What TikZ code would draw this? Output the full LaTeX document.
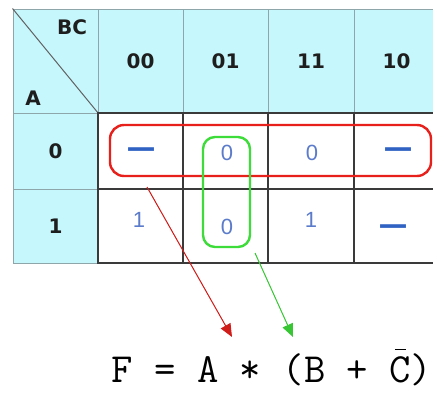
\documentclass[tikz,border=0pt]{standalone}
\usepackage{fontspec}
\usepackage{tikz}
\usetikzlibrary{arrows.meta,positioning}
\newfontfamily\kmapfont{DejaVu Sans}
\newfontfamily\valfont{Liberation Sans}
\definecolor{kmapcyan}{HTML}{C6F7FC}
\definecolor{kmapgrid}{HTML}{8EA6AA}
\definecolor{kmapline}{HTML}{3A3A3A}
\definecolor{kmapink}{HTML}{1E1E1E}
\definecolor{kmapblue}{HTML}{5B7BCB}
\definecolor{kmapdash}{HTML}{2F62C2}
\definecolor{loopred}{HTML}{E8201C}
\definecolor{loopgreen}{HTML}{3EDC3A}
\tikzset{
  headcell/.style={
    draw=kmapgrid,
    fill=kmapcyan,
    line width=1pt,
    inner sep=0pt,
    text=kmapink,
    font=\kmapfont\bfseries\fontsize{20}{22}\selectfont
  },
  datacell/.style={
    draw=kmapline,
    fill=white,
    line width=1.7pt,
    inner sep=0pt
  },
  cellval/.style={
    text=kmapblue,
    inner sep=0pt,
    font=\valfont\fontsize{22}{24}\selectfont
  },
  dontcare/.style={
    text=kmapdash,
    inner sep=0pt,
    font=\kmapfont\bfseries\fontsize{29}{32}\selectfont
  },
  grouploop/.style={
    rounded corners=14pt,
    line width=2.4pt,
    inner sep=0pt
  },
  pointer/.style={
    -{Triangle[length=13pt,width=11pt]},
    line width=1pt
  },
  formula/.style={
    inner sep=0pt,
    font=\ttfamily\fontsize{41.5}{46}\selectfont
  }
}

\begin{document}
\begin{tikzpicture}[x=1pt,y=-1pt]
  \useasboundingbox (0,0) rectangle (433,394);
  \clip (0,0) rectangle (433,394);

  % header row and row labels
  \node[headcell, minimum width=85pt, minimum height=104pt] (corner) at (55.5,61) {};
  \foreach \name/\cx/\w in {00/140.5/85, 01/225.5/85, 11/311/86, 10/396.5/85}
    \node[headcell, minimum width=\w pt, minimum height=104pt] (h\name) at (\cx,61) {\name};
  \node[headcell, minimum width=85pt, minimum height=76pt] (r0) at (55.5,151) {0};
  \node[headcell, minimum width=85pt, minimum height=74pt] (r1) at (55.5,226) {1};
  \draw[kmapline!80, line width=1pt] (corner.north west) -- (corner.south east);
  \node[text=kmapink, font=\kmapfont\bfseries\fontsize{20}{22}\selectfont, inner sep=0pt] (bc) at (72,27) {BC};
  \node[text=kmapink, font=\kmapfont\bfseries\fontsize{20}{22}\selectfont, inner sep=0pt] (a) at (33,98) {A};

  % data cells
  \foreach \row/\cy/\h in {0/151/76, 1/226/74}
    \foreach \name/\cx/\w in {00/140.5/85, 01/225.5/85, 11/311/86, 10/396.5/85}
      \node[datacell, minimum width=\w pt, minimum height=\h pt] (d\row-\name) at (\cx,\cy) {};

  % cell values
  \node[dontcare] (v0a) at (141,153) {—};
  \node[cellval] (v0b) at (227,153) {0};
  \node[cellval] (v0c) at (312,153) {0};
  \node[dontcare] (v0d) at (398,153) {—};
  \node[cellval] (v1a) at (139,220) {1};
  \node[cellval] (v1b) at (227,227) {0};
  \node[cellval] (v1c) at (311,220) {1};
  \node[dontcare] (v1d) at (393,230) {—};

  % groups
  \node[grouploop, draw=loopred, minimum width=321pt, minimum height=51pt] (rowloop) at (270.5,150.5) {};
  \node[grouploop, draw=loopgreen, rounded corners=12pt, minimum width=47pt, minimum height=110pt] (colloop) at (226.5,192) {};

  % result
  \node[formula, anchor=base] (result) at (272,382)
    {F = A * (B + \makebox[0pt][l]{\hspace{0.13em}\rule[0.76em]{0.26em}{1.5pt}}C)};

  \coordinate (redtail) at (147,187);
  \coordinate (redhead) at (232,337);
  \coordinate (greentail) at (255,253);
  \coordinate (greenhead) at (293,337);
  \draw[pointer, draw=loopred!90!black, fill=loopred] (redtail) -- (redhead);
  \draw[pointer, draw=loopgreen!90!black, fill=loopgreen] (greentail) -- (greenhead);
\end{tikzpicture}
\end{document}
